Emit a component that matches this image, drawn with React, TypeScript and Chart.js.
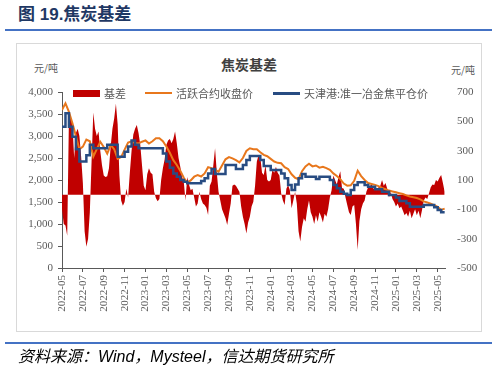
import React, { useEffect, useRef } from "react";
import { Chart, registerables } from "chart.js";

Chart.register(...registerables);

// ---- categories ----
const MONTHS: string[] = [
  "2022-05", "2022-06", "2022-07", "2022-08", "2022-09", "2022-10", "2022-11", "2022-12",
  "2023-01", "2023-02", "2023-03", "2023-04", "2023-05", "2023-06", "2023-07", "2023-08",
  "2023-09", "2023-10", "2023-11", "2023-12", "2024-01", "2024-02", "2024-03", "2024-04",
  "2024-05", "2024-06", "2024-07", "2024-08", "2024-09", "2024-10", "2024-11", "2024-12",
  "2025-01", "2025-02", "2025-03", "2025-04", "2025-05",
];
// price lines sampled three times a month, basis six times a month (last: 2025-05-21)
const LINE_DAYS: string[] = ["01", "11", "21"];
const BASIS_DAYS: string[] = ["01", "06", "11", "16", "21", "26"];
const LINE_DATES: string[] = MONTHS.flatMap((m) => LINE_DAYS.map((d) => `${m}-${d}`));
const BASIS_DATES: string[] = MONTHS.flatMap((m) => BASIS_DAYS.map((d) => `${m}-${d}`)).filter(
  (d) => d <= "2025-05-21"
);

const TICK_LABELS: string[] = [
  "2022-05", "2022-07", "2022-09", "2022-11", "2023-01", "2023-03", "2023-05", "2023-07",
  "2023-09", "2023-11", "2024-01", "2024-03", "2024-05", "2024-07", "2024-09", "2024-11",
  "2025-01", "2025-03", "2025-05",
];

// ---- series (元/吨) ----
// 活跃合约收盘价 (left axis)
const FUTURES: number[] = [
  3590, 3742, 3550, 3288, 3000, 2700, 2758, 2920, 2880, 2530, 2700, 2870,
  2750, 2600, 2795, 2700, 2480, 2520, 2690, 2850, 2880, 2840, 2830, 2870,
  2900, 2830, 2880, 2947, 2947, 2880, 2760, 2620, 2450, 2340, 2210, 2050,
  1940, 1990, 2075, 2110, 2080, 2150, 2290, 2270, 2230, 2190, 2330, 2470,
  2520, 2490, 2450, 2400, 2500, 2660, 2720, 2700, 2700, 2630, 2570, 2540,
  2480, 2420, 2390, 2380, 2290, 2250, 2130, 2050, 2020, 2200, 2310, 2370,
  2310, 2330, 2280, 2300, 2270, 2230, 2150, 2090, 2020, 1920, 1870, 1880,
  1980, 2210, 2090, 2000, 1930, 1910, 1890, 1860, 1820, 1790, 1760, 1740,
  1720, 1700, 1680, 1650, 1625, 1610, 1590, 1560, 1515, 1490, 1460, 1430,
  1390, 1320, 1350,
];
// 天津港:准一冶金焦平仓价 (left axis)
const SPOT: number[] = [
  3210, 3210, 3515, 3210, 2985, 2700, 2420, 2420, 2560, 2800, 2720, 2720,
  2720, 2720, 2800, 2800, 2800, 2530, 2530, 2640, 2760, 2900, 2800, 2720,
  2720, 2720, 2720, 2720, 2720, 2720, 2600, 2420, 2280, 2150, 2075, 2000,
  1962, 1924, 1924, 1924, 1924, 1977, 2038, 2150, 2250, 2136, 2136, 2136,
  2341, 2341, 2341, 2250, 2250, 2341, 2454, 2545, 2545, 2545, 2454, 2320,
  2320, 2227, 2227, 2227, 2150, 2040, 1886, 1773, 1900, 2038, 2136, 2075,
  2075, 2075, 2023, 2075, 2075, 2075, 2000, 1886, 1810, 1735, 1690, 1660,
  1773, 1886, 1947, 1947, 1886, 1848, 1848, 1788, 1788, 1735, 1735, 1659,
  1659, 1600, 1523, 1523, 1470, 1394, 1394, 1394, 1394, 1432, 1432, 1432,
  1379, 1318, 1265,
];
// 基差 (right axis), six readings per month
const BASIS: number[] = [
  -100, -200, -210, -280, 540, 520,
  480, 250, 420, 450, 400, 260,
  80, -250, -355, -300, -120, 225,
  560, 450, 400, 430, 300, 200,
  130, 120, 125, 180, 330, 450,
  520, 620, 480, 130, -40, -75,
  -50, 40, -20, 150, 300, 410,
  450, 475, 420, 340, 200, 60,
  30, 140, 180, 150, 140, 20,
  -25, -45, -30, 100, 180, 240,
  340, 370, 380, 350, 380, 430,
  350, 250, 190, 120, 90, -40,
  120, 70, 30, 40, -20, -80,
  -60, 20, -30, -60, -70, -90,
  -139, 60, 90, 200, 316, 150,
  20, -40, -100, -130, -160, -207,
  -130, -60, 60, 70, 60, 40,
  20, -80, -150, -200, -264, -190,
  -150, -80, -48, 60, 225, 270,
  260, 150, 134, 200, 100, 89,
  100, 170, 150, 190, 150, 130,
  10, -40, -70, 40, 66, 30,
  -93, -40, 20, -60, -250, -320,
  -220, -160, -184, -100, -40, -120,
  -150, -200, -140, -184, -120, -150,
  -190, -130, -150, -100, -20, 30,
  130, 100, 70, 120, 160, 45,
  40, -20, -70, -120, -139, -80,
  -70, -200, -377, -180, -100, -60,
  -40, 20, 50, 55, 75, 40,
  43, 30, 50, 60, 100, 60,
  80, 40, -20, 20, -30, -50,
  -80, -60, -93, -80, -110, -140,
  -125, -150, -110, -160, -130, -100,
  -140, -110, -160, -105, -40, -20,
  -30, 10, 50, 70, 66, 100,
  90, 115, 134, 80, 20,
];

const LEFT_TICKS = { min: 0, max: 4000, step: 500 };
const RIGHT_TICKS = { min: -500, max: 700, step: 200 };

function monthPos(date: string): number {
  const [y, m, d] = date.split("-").map(Number);
  return (y - 2022) * 12 + (m - 5) + ((d || 1) - 1) / 30;
}

const GRAY = "#595959";
const SERIF = "'Liberation Serif', 'Times New Roman', serif";
const CJK = "'Noto Sans CJK SC', sans-serif";
const RED = "#C00000";
const ORANGE = "#E8771C";
const BLUE = "#284C82";

export default function App() {
  const ref = useRef<HTMLCanvasElement | null>(null);

  useEffect(() => {
    if (!ref.current) return;
    const lx = LINE_DATES.map(monthPos);
    const bx = BASIS_DATES.map(monthPos);
    const tickVals = TICK_LABELS.map((l) => monthPos(l + "-01"));
    const chart = new Chart(ref.current, {
      type: "line",
      data: {
        datasets: [
          {
            label: "天津港:准一冶金焦平仓价",
            data: SPOT.map((v, i) => ({ x: lx[i], y: v })),
            yAxisID: "y",
            borderColor: BLUE,
            borderWidth: 2.5,
            pointRadius: 0,
            fill: false,
            stepped: "after",
            order: 1,
          },
          {
            label: "活跃合约收盘价",
            data: FUTURES.map((v, i) => ({ x: lx[i], y: v })),
            yAxisID: "y",
            borderColor: ORANGE,
            borderWidth: 2,
            pointRadius: 0,
            fill: false,
            tension: 0,
            order: 2,
          },
          {
            label: "基差",
            data: BASIS.map((v, i) => ({ x: bx[i], y: v })),
            yAxisID: "y1",
            borderColor: RED,
            borderWidth: 0,
            backgroundColor: RED,
            pointRadius: 0,
            fill: { value: 0 },
            tension: 0,
            order: 3,
          },
        ],
      },
      options: {
        responsive: false,
        animation: false,
        events: [],
        layout: { padding: { left: 22, right: 13, top: 92, bottom: 52 } },
        plugins: {
          legend: { display: false },
          title: { display: false },
          tooltip: { enabled: false },
        },
        scales: {
          x: {
            type: "linear",
            min: 0,
            max: 36.7,
            afterBuildTicks: (scale: any) => {
              scale.ticks = tickVals.map((v) => ({ value: v }));
            },
            afterFit: (scale: any) => {
              scale.height = 50;
            },
            ticks: {
              autoSkip: false,
              minRotation: 90,
              maxRotation: 90,
              padding: 3,
              color: GRAY,
              font: { family: SERIF, size: 11 },
              callback: (v: any) => {
                const i = tickVals.findIndex((t) => Math.abs(t - Number(v)) < 0.01);
                return i >= 0 ? TICK_LABELS[i] : "";
              },
            },
            grid: { drawOnChartArea: false, drawTicks: true, tickLength: 4, color: GRAY },
            border: { display: true, color: GRAY, width: 1 },
          },
          y: {
            position: "left",
            min: LEFT_TICKS.min,
            max: LEFT_TICKS.max,
            afterFit: (scale: any) => {
              scale.width = 40;
            },
            ticks: {
              stepSize: LEFT_TICKS.step,
              padding: 5,
              color: GRAY,
              font: { family: SERIF, size: 11 },
              callback: (v: any) => Number(v).toLocaleString("en-US"),
            },
            grid: { drawOnChartArea: false, drawTicks: true, tickLength: 4, color: GRAY },
            border: { display: true, color: GRAY, width: 1 },
          },
          y1: {
            position: "right",
            min: RIGHT_TICKS.min,
            max: RIGHT_TICKS.max,
            afterFit: (scale: any) => {
              scale.width = 40;
            },
            ticks: {
              stepSize: RIGHT_TICKS.step,
              padding: 12,
              color: GRAY,
              font: { family: SERIF, size: 11 },
              callback: (v: any) => String(v),
            },
            grid: { display: false, drawTicks: false },
            border: { display: false },
          },
        },
      },
    } as any);
    return () => chart.destroy();
  }, []);

  const abs = (s: React.CSSProperties): React.CSSProperties => ({ position: "absolute", whiteSpace: "nowrap", ...s });

  return (
    <div style={{ position: "fixed", left: 0, top: 0, width: 498, height: 370, background: "#fff", overflow: "hidden" }}>
      <div style={abs({ left: 18, top: 4, fontFamily: "'Liberation Sans', " + CJK, fontWeight: 700, fontSize: 17, lineHeight: "22px", color: "#1F3864" })}>
        图 19.焦炭基差
      </div>
      <div style={abs({ left: 5, top: 29, width: 487, height: 2, background: "#4472C4" })} />
      <div style={abs({ left: 16, top: 43, width: 464, height: 287, border: "1px solid #D9D9D9" })} />
      <div style={abs({ left: 0, width: 498, top: 55, textAlign: "center", fontFamily: CJK, fontWeight: 700, fontSize: 14, lineHeight: "18px", color: "#404040" })}>
        焦炭基差
      </div>
      <div style={abs({ left: 34, top: 62, fontFamily: CJK, fontSize: 10, lineHeight: "12px", color: GRAY })}>元/吨</div>
      <div style={abs({ left: 451, top: 64, fontFamily: CJK, fontSize: 10, lineHeight: "12px", color: GRAY })}>元/吨</div>
      <canvas ref={ref} width={498} height={370} style={{ position: "absolute", left: 0, top: 0, width: 498, height: 370 }} />
      {/* legend */}
      <div style={abs({ left: 73, top: 90, width: 27, height: 7, background: RED })} />
      <div style={abs({ left: 104, top: 86, fontFamily: CJK, fontSize: 11, lineHeight: "14px", color: GRAY })}>基差</div>
      <div style={abs({ left: 145, top: 92, width: 27, height: 2, background: ORANGE })} />
      <div style={abs({ left: 176, top: 86, fontFamily: CJK, fontSize: 11, lineHeight: "14px", color: GRAY })}>活跃合约收盘价</div>
      <div style={abs({ left: 273, top: 92, width: 27, height: 2.5, background: BLUE })} />
      <div style={abs({ left: 304, top: 86, fontFamily: CJK, fontSize: 11, lineHeight: "14px", color: GRAY })}>天津港:准一冶金焦平仓价</div>
      <div style={abs({ left: 5, top: 342, width: 487, height: 2, background: "#4472C4" })} />
      <div style={abs({ left: 18, top: 347, fontFamily: "'Liberation Sans', " + CJK, fontStyle: "italic", fontSize: 16, lineHeight: "19px", color: "#000" })}>
        资料来源：Wind，Mysteel，信达期货研究所
      </div>
    </div>
  );
}
